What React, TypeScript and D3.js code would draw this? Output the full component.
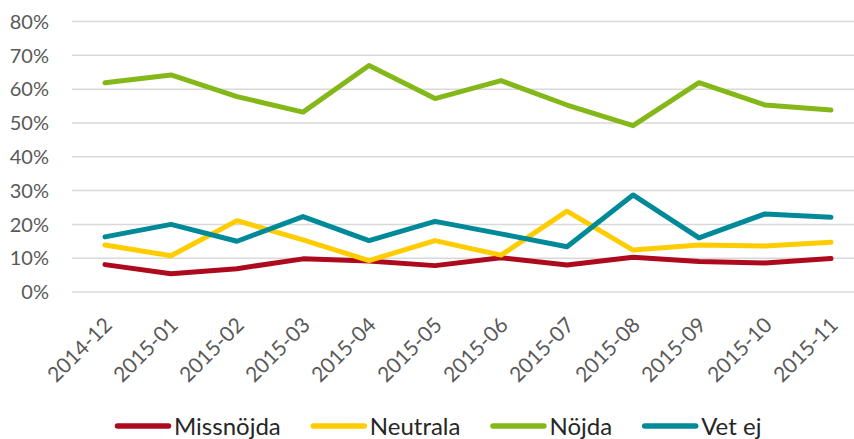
import * as d3 from 'd3';
import { useEffect, useRef } from 'react';

const months = [
  '2014-12', '2015-01', '2015-02', '2015-03', '2015-04', '2015-05',
  '2015-06', '2015-07', '2015-08', '2015-09', '2015-10', '2015-11',
];

const missnojda = [8.1, 5.4, 6.9, 9.8, 9.2, 7.8, 10.1, 8.0, 10.3, 9.0, 8.6, 9.9];
const neutrala = [13.9, 10.7, 21.1, 15.4, 9.3, 15.2, 10.9, 23.9, 12.4, 13.9, 13.6, 14.7];
const nojda = [61.9, 64.2, 57.8, 53.2, 67.0, 57.2, 62.5, 55.3, 49.2, 61.9, 55.3, 53.8];
const vetEj = [16.3, 20.0, 15.0, 22.3, 15.2, 20.9, 17.2, 13.4, 28.7, 16.0, 23.1, 22.1];

const yTicks = [0, 10, 20, 30, 40, 50, 60, 70, 80];

const series = [
  { name: 'Missnöjda', values: missnojda, color: '#AE0A1E' },
  { name: 'Neutrala', values: neutrala, color: '#FFCC00' },
  { name: 'Nöjda', values: nojda, color: '#84B819' },
  { name: 'Vet ej', values: vetEj, color: '#008A99' },
];

const width = 854;
const height = 439;
const font = 'Lato, "Open Sans", sans-serif';

const App: React.FC = () => {
  const ref = useRef<null | SVGSVGElement>(null);

  useEffect(() => {
    const svg = d3.select(ref.current);
    svg.selectAll('*').remove();

    // scales
    const x = d3.scaleBand().domain(months).range([72, 864]);
    const y = d3.scaleLinear().domain([0, 80]).range([292, 21.5]);

    // gridlines + y labels
    const grid = svg.append('g');
    grid
      .selectAll('line')
      .data(yTicks)
      .join('line')
      .attr('x1', 72)
      .attr('x2', width)
      .attr('y1', (d) => y(d))
      .attr('y2', (d) => y(d))
      .attr('stroke', '#D9D9D9')
      .attr('stroke-width', 1.5);

    grid
      .selectAll('text')
      .data(yTicks)
      .join('text')
      .attr('x', 49)
      .attr('y', (d) => y(d))
      .attr('dy', '0.36em')
      .attr('text-anchor', 'end')
      .attr('fill', '#595959')
      .style('font', `20px ${font}`)
      .text((d) => `${d}%`);

    // x labels, rotated
    svg
      .append('g')
      .selectAll('text')
      .data(months)
      .join('text')
      .attr(
        'transform',
        (d) => `translate(${x(d)! + x.bandwidth() / 2 + 3},${321}) rotate(-45)`
      )
      .attr('text-anchor', 'end')
      .attr('dy', '0.36em')
      .attr('fill', '#595959')
      .style('font', `21px ${font}`)
      .text((d) => d);

    // lines
    const line = d3
      .line<number>()
      .x((_, i) => x(months[i])! + x.bandwidth() / 2)
      .y((d) => y(d));

    svg
      .append('g')
      .selectAll('path')
      .data(series)
      .join('path')
      .attr('d', (d) => line(d.values))
      .attr('fill', 'none')
      .attr('stroke', (d) => d.color)
      .attr('stroke-width', 5)
      .attr('stroke-linejoin', 'round')
      .attr('stroke-linecap', 'round');

    // legend
    const legend = svg.append('g').attr('transform', 'translate(115,426)');
    let lx = 0;
    series.forEach((s) => {
      const g = legend.append('g').attr('transform', `translate(${lx},0)`);
      g.append('line')
        .attr('x1', 2.5)
        .attr('x2', 53.5)
        .attr('stroke', s.color)
        .attr('stroke-width', 5.5)
        .attr('stroke-linecap', 'round');
      const t = g
        .append('text')
        .attr('x', 59)
        .attr('y', 8.5)
        .attr('fill', '#262626')
        .style('font', `24px ${font}`)
        .text(s.name);
      const w = (t.node() as SVGTextElement).getComputedTextLength();
      lx += 59 + w + 30;
    });
  }, []);

  return (
    <svg
      ref={ref}
      width={width}
      height={height}
      style={{ position: 'absolute', left: 0, top: 0, background: '#fff' }}
    />
  );
};

export default App;
